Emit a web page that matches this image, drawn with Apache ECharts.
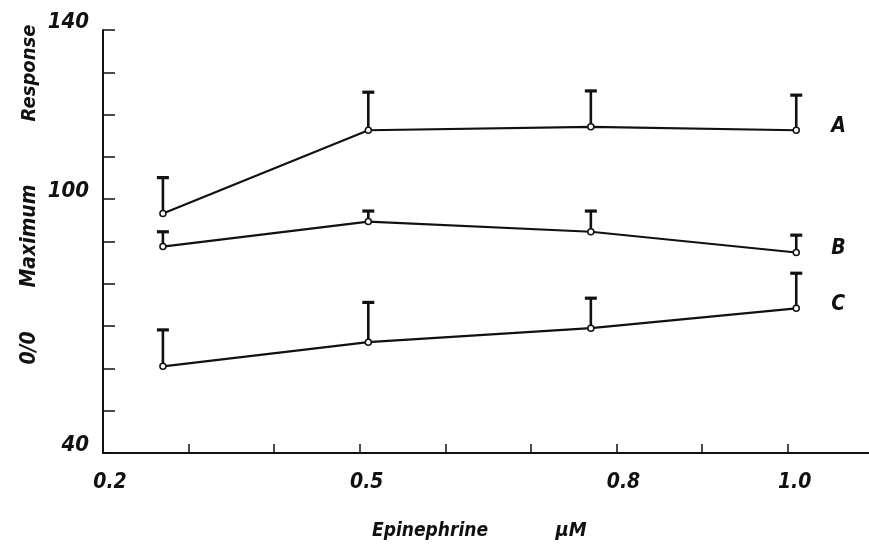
<!DOCTYPE html>
<html>
<head>
<meta charset="utf-8">
<script src="https://cdn.jsdelivr.net/npm/echarts@6/dist/echarts.min.js"></script>
<style>html,body{margin:0;padding:0;background:#fff;}#c{width:869px;height:547px;}</style>
</head>
<body>
<div id="c"></div>
<script>
// ---- data ----
const xValues = [0.27, 0.51, 0.77, 1.01];          // Epinephrine, µM
const seriesNames = ['A', 'B', 'C'];
const meanA = [96.6, 116.3, 117.1, 116.3];
const meanB = [88.8, 94.7, 92.3, 87.4];
const meanC = [60.5, 66.2, 69.5, 74.2];
const upperA = [105.1, 125.3, 125.6, 124.6];
const upperB = [92.3, 97.2, 97.2, 91.5];
const upperC = [69.1, 75.6, 76.6, 82.5];
const xTickLabels = [0.2, 0.5, 0.8, 1.0];
const yTickLabels = [40, 100, 140];
const yTitleParts = ['0/0', 'Maximum', 'Response'];
const xTitleParts = ['Epinephrine', 'µM'];

const FONT = '"Liberation Sans Narrow","DejaVu Sans Condensed","DejaVu Sans",sans-serif';
const INK = '#111';

const means = [meanA, meanB, meanC];
const uppers = [upperA, upperB, upperC];

const chart = echarts.init(document.getElementById('c'), null, {renderer: 'canvas'});

function near(v, list) { return list.some(t => Math.abs(t - v) < 1e-6); }

const series = [];
means.forEach((m, i) => {
  series.push({
    type: 'line',
    name: seriesNames[i],
    data: xValues.map((x, j) => [x, m[j]]),
    symbol: 'circle',
    symbolSize: 6,
    showSymbol: true,
    itemStyle: {color: '#fff', borderColor: INK, borderWidth: 1.5},
    lineStyle: {color: INK, width: 2.2},
    z: 3,
    endLabel: {
      show: true,
      formatter: seriesNames[i],
      offset: [27, -4],
      fontFamily: FONT, fontWeight: 'bold', fontStyle: 'italic',
      fontSize: 21, color: INK
    },
    animation: false
  });
  series.push({
    type: 'custom',
    name: seriesNames[i] + ' err',
    data: xValues.map((x, j) => [x, m[j], uppers[i][j]]),
    renderItem: function (params, api) {
      const p0 = api.coord([api.value(0), api.value(1)]);
      const p1 = api.coord([api.value(0), api.value(2)]);
      const half = 6;
      return {
        type: 'group',
        children: [
          {type: 'line', shape: {x1: p0[0], y1: p0[1] - 3, x2: p1[0], y2: p1[1]},
           style: {stroke: INK, lineWidth: 2.6}},
          {type: 'line', shape: {x1: p1[0] - half, y1: p1[1], x2: p1[0] + half, y2: p1[1]},
           style: {stroke: INK, lineWidth: 3.2}}
        ]
      };
    },
    z: 2,
    animation: false
  });
});

chart.setOption({
  animation: false,
  backgroundColor: '#fff',
  grid: {left: 103, right: 0, top: 30, bottom: 94, containLabel: false},
  xAxis: {
    type: 'value',
    min: 0.2, max: 1.095, interval: 0.1,
    axisLine: {show: true, onZero: false, lineStyle: {color: INK, width: 2}},
    axisTick: {show: true, inside: true, length: 9, lineStyle: {color: INK, width: 1.5}},
    axisLabel: {
      show: true, margin: 19, showMinLabel: true, showMaxLabel: false,
      padding: [0, 0, 0, 14],
      formatter: v => near(v, xTickLabels) ? v.toFixed(1) : '',
      fontFamily: FONT, fontWeight: 'bold', fontStyle: 'italic', fontSize: 21, color: INK
    },
    splitLine: {show: false}
  },
  yAxis: {
    type: 'value',
    min: 40, max: 140, interval: 10,
    axisLine: {show: true, onZero: false, lineStyle: {color: INK, width: 2}},
    axisTick: {show: true, inside: true, length: 12, lineStyle: {color: INK, width: 1.5}},
    axisLabel: {
      show: true, margin: 14, verticalAlign: 'bottom', lineHeight: 16,
      formatter: v => near(v, yTickLabels) ? String(v) : '',
      fontFamily: FONT, fontWeight: 'bold', fontStyle: 'italic', fontSize: 22, color: INK
    },
    splitLine: {show: false}
  },
  graphic: [
    {type: 'text', x: 30, y: 348, rotation: Math.PI / 2,
     style: {text: yTitleParts[0], fontFamily: FONT, fontWeight: 'bold', fontStyle: 'italic', fontSize: 21, fill: INK, align: 'center', verticalAlign: 'middle'}},
    {type: 'text', x: 30, y: 236, rotation: Math.PI / 2,
     style: {text: yTitleParts[1], fontFamily: FONT, fontWeight: 'bold', fontStyle: 'italic', fontSize: 21, fill: INK, align: 'center', verticalAlign: 'middle'}},
    {type: 'text', x: 30, y: 73, rotation: Math.PI / 2,
     style: {text: yTitleParts[2], fontFamily: FONT, fontWeight: 'bold', fontStyle: 'italic', fontSize: 20, fill: INK, align: 'center', verticalAlign: 'middle'}},
    {type: 'text', x: 430, y: 531,
     style: {text: xTitleParts[0], fontFamily: FONT, fontWeight: 'bold', fontStyle: 'italic', fontSize: 19, fill: INK, align: 'center', verticalAlign: 'middle'}},
    {type: 'text', x: 571, y: 531,
     style: {text: xTitleParts[1], fontFamily: FONT, fontWeight: 'bold', fontStyle: 'italic', fontSize: 20, fill: INK, align: 'center', verticalAlign: 'middle'}}
  ],
  series: series
});
</script>
</body>
</html>
